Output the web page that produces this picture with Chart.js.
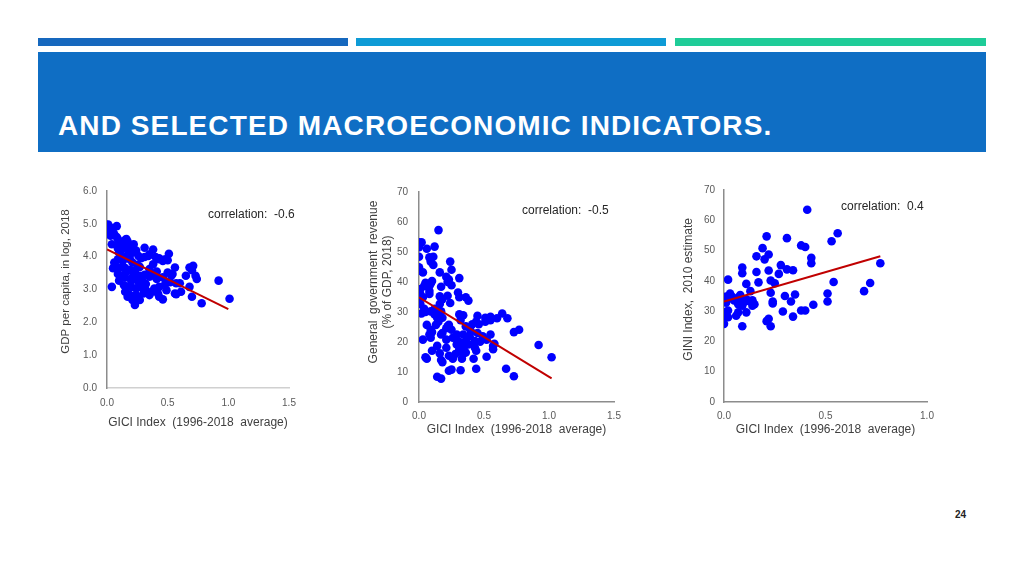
<!DOCTYPE html>
<html>
<head>
<meta charset="utf-8">
<script src="https://cdn.jsdelivr.net/npm/chart.js@4.4.1/dist/chart.umd.min.js"></script>
<style>
  html, body { margin: 0; padding: 0; background: #fff; }
  body { width: 1024px; height: 576px; position: relative; overflow: hidden; font-family: "Liberation Sans", Arial, sans-serif; }
  .bar { position: absolute; top: 38px; height: 8px; }
  #titleBox { position: absolute; left: 38px; top: 52px; width: 948px; height: 100px; background: #0f6ec4; }
  #titleText { position: absolute; left: 58px; top: 110px; color: #fff; font-weight: bold; font-size: 28px; letter-spacing: 1.1px; white-space: nowrap; }
  canvas { position: absolute; }
  .corr { position: absolute; font-size: 12px; color: #262626; white-space: pre; }
  #pageNum { position: absolute; left: 955px; top: 509px; font-size: 10px; font-weight: bold; color: #222; }
</style>
</head>
<body>
<div class="bar" style="left:38px;width:310px;background:#1668be;"></div>
<div class="bar" style="left:356px;width:310px;background:#0e9bd6;"></div>
<div class="bar" style="left:675px;width:311px;background:#1fcc98;"></div>
<div id="titleBox"></div>
<div id="titleText">AND SELECTED MACROECONOMIC INDICATORS.</div>

<canvas id="gdpCanvas" width="260" height="260" style="left:50px;top:175px;"></canvas>
<canvas id="revCanvas" width="270" height="270" style="left:360px;top:175px;"></canvas>
<canvas id="giniCanvas" width="280" height="270" style="left:670px;top:175px;"></canvas>

<div class="corr" style="left:208px;top:207px;">correlation:  -0.6</div>
<div class="corr" style="left:522px;top:203px;">correlation:  -0.5</div>
<div class="corr" style="left:841px;top:199px;">correlation:  0.4</div>
<div id="pageNum">24</div>

<script>
// --- Data: GICI index vs GDP per capita (log) ---
const gdpX = [0.00,0.01,0.02,0.01,0.00,0.02,0.04,0.05,0.08,0.06,
  0.03,0.08,0.09,0.10,0.04,0.11,0.09,0.12,0.15,0.16,
  0.17,0.15,0.15,0.18,0.20,0.22,0.19,0.10,0.12,0.09,
  0.13,0.16,0.21,0.24,0.26,0.28,0.31,0.34,0.35,0.38,
  0.40,0.42,0.43,0.46,0.48,0.50,0.51,0.31,0.19,0.21,
  0.25,0.27,0.06,0.08,0.05,0.12,0.15,0.19,0.09,0.12,
  0.16,0.23,0.21,0.15,0.10,0.14,0.17,0.20,0.24,0.27,
  0.30,0.32,0.37,0.39,0.43,0.41,0.39,0.35,0.31,0.29,
  0.26,0.24,0.32,0.30,0.24,0.21,0.19,0.15,0.17,0.23,
  0.27,0.35,0.42,0.43,0.46,0.49,0.52,0.53,0.50,0.56,
  0.54,0.49,0.57,0.57,0.60,0.65,0.68,0.70,0.68,0.71,
  0.73,0.74,0.70,0.78,0.92,1.01,0.04,0.20,0.27,0.35,
  0.38,0.41,0.46,0.48,0.56,0.61];
const gdpY = [4.96,4.98,4.91,4.84,4.78,4.73,4.79,4.86,4.93,4.68,
  4.64,4.60,4.54,4.41,4.38,4.32,4.25,4.22,4.51,4.54,
  4.46,4.35,4.27,4.22,4.35,4.38,4.12,4.12,3.99,3.92,
  3.87,4.02,4.12,4.19,4.02,3.95,3.99,4.02,4.07,4.22,
  3.99,3.92,3.95,3.87,3.92,3.89,4.09,4.27,3.92,3.82,
  3.75,3.69,3.82,3.69,3.65,3.67,3.65,3.59,3.47,3.42,
  3.55,3.57,3.37,3.37,3.27,3.13,3.08,3.08,3.03,3.08,
  3.03,2.98,2.93,3.03,3.08,3.32,3.42,3.39,3.45,3.27,
  3.22,3.37,3.17,2.88,2.83,2.68,2.83,2.93,2.78,2.53,
  2.68,2.83,2.88,2.78,2.70,3.22,3.22,3.42,3.52,3.67,
  3.47,2.98,3.19,2.86,3.19,3.42,3.67,3.59,3.08,3.72,
  3.42,3.32,2.78,2.58,3.27,2.72,3.08,3.27,3.42,3.62,
  3.77,3.55,3.37,3.17,2.88,2.93];
const gdpTrendX = [0, 1.0];
const gdpTrendY = [4.22, 2.40];

// --- Data: GICI index vs general government revenue ---
const revX = [0.15,0.00,0.02,0.00,0.00,0.06,0.12,0.08,0.11,0.09,
  0.11,0.00,0.00,0.03,0.16,0.24,0.25,0.21,0.23,0.22,
  0.31,0.25,0.17,0.22,0.16,0.30,0.24,0.36,0.38,0.00,
  0.01,0.03,0.01,0.04,0.05,0.08,0.09,0.10,0.08,0.08,
  0.09,0.12,0.14,0.17,0.14,0.15,0.06,0.09,0.10,0.08,
  0.09,0.03,0.10,0.05,0.06,0.14,0.16,0.18,0.17,0.23,
  0.21,0.21,0.18,0.22,0.23,0.25,0.26,0.29,0.28,0.31,
  0.32,0.34,0.33,0.34,0.36,0.38,0.39,0.40,0.41,0.43,
  0.44,0.42,0.43,0.44,0.45,0.47,0.46,0.51,0.51,0.55,
  0.52,0.55,0.55,0.57,0.58,0.52,0.57,0.26,0.25,0.23,
  0.14,0.17,0.32,0.44,0.67,0.73,0.64,0.68,0.73,0.77,
  0.92,1.02,0.49,0.31,0.32,0.36,0.17,0.13,0.18,0.21,
  0.29,0.30,0.36,0.00,0.02,0.01,0.04,0.05,0.12,0.16,
  0.18,0.31,0.34,0.39,0.35,0.45,0.31,0.60];
const revY = [57.3,53.2,53.2,51.6,48.4,51.1,51.8,48.2,48.4,46.8,
  45.7,44.9,43.8,43.2,43.2,46.8,44.1,41.7,40.8,40.0,
  41.3,38.9,38.4,35.4,35.2,36.5,33.0,34.9,33.8,37.0,
  36.0,34.9,32.7,31.1,30.0,38.7,39.5,40.3,37.0,36.0,
  30.2,31.1,29.8,30.2,28.1,26.8,25.7,24.1,23.3,22.5,
  21.4,20.8,17.1,14.9,14.4,18.7,16.2,13.3,14.0,15.4,
  18.1,20.8,23.0,25.2,25.7,24.1,21.4,19.2,16.0,17.1,
  19.8,16.0,14.4,22.5,20.3,19.2,21.9,23.5,25.9,18.1,
  17.1,14.4,20.3,26.8,28.7,20.1,25.9,28.1,26.8,28.4,
  20.8,27.3,22.5,18.7,19.4,15.1,17.6,14.4,10.8,10.4,
  8.4,7.8,10.6,11.1,11.1,8.6,29.5,27.9,23.3,24.1,
  19.0,14.9,21.9,29.2,27.3,25.2,22.5,25.7,28.1,24.6,
  22.5,20.3,16.5,33.3,29.5,37.6,38.7,39.7,29.2,32.7,
  34.3,34.9,28.9,24.6,18.7,23.0,17.6,27.9];
const revTrendX = [0, 1.02];
const revTrendY = [34.9, 7.9];

// --- Data: GICI index vs GINI index ---
const giniX = [0.41,0.21,0.31,0.19,0.38,0.40,0.53,0.56,0.16,0.22,
  0.20,0.43,0.43,0.77,0.09,0.09,0.16,0.22,0.28,0.31,
  0.34,0.27,0.02,0.11,0.17,0.23,0.25,0.54,0.72,0.69,
  0.01,0.03,0.04,0.08,0.07,0.11,0.12,0.14,0.15,0.14,
  0.09,0.07,0.01,0.00,0.00,0.02,0.00,0.06,0.07,0.11,
  0.09,0.21,0.22,0.23,0.23,0.24,0.24,0.30,0.35,0.33,
  0.29,0.34,0.38,0.40,0.44,0.51,0.51,0.02,0.13,0.05,
  0.02,0.10];
const giniY = [63.5,54.7,54.1,50.8,51.7,51.2,53.1,55.7,48.1,48.7,
  47.1,47.6,45.8,45.8,44.4,42.5,42.9,43.4,45.2,43.8,
  43.5,42.3,40.4,39.0,39.5,40.1,39.2,39.6,39.3,36.6,
  34.8,35.8,34.7,35.3,34.5,33.9,33.4,33.6,32.3,31.8,
  31.8,32.3,32.8,29.6,27.5,28.0,25.8,28.5,29.6,29.6,
  25.0,26.7,27.5,25.0,36.1,33.2,32.5,35.0,35.5,33.2,
  29.9,28.2,30.2,30.2,32.1,35.8,33.2,30.2,36.6,33.5,
  34.0,33.0];
const giniTrendX = [0, 0.77];
const giniTrendY = [33.2, 48.1];

// --- Shared style ---
const FONT = '"Liberation Sans", Arial, sans-serif';
const TICK_COLOR = '#595959';
const TITLE_COLOR = '#404040';
const DOT_COLOR = '#0000ff';
const TREND_COLOR = '#c00000';

function toPoints(xs, ys) {
  return xs.map((x, i) => ({ x: x, y: ys[i] }));
}

function makeScatter(canvasId, xs, ys, trendX, trendY, cfg) {
  const ctx = document.getElementById(canvasId).getContext('2d');
  return new Chart(ctx, {
    type: 'scatter',
    data: {
      datasets: [
        {
          // trend line first so it sits on top of the dots
          type: 'line',
          data: toPoints(trendX, trendY),
          borderColor: TREND_COLOR,
          borderWidth: 2,
          pointRadius: 0,
          fill: false
        },
        {
          data: toPoints(xs, ys),
          backgroundColor: DOT_COLOR,
          borderWidth: 0,
          pointRadius: 4.3
        }
      ]
    },
    options: {
      responsive: false,
      animation: false,
      events: [],
      layout: { padding: cfg.padding },
      plugins: { legend: { display: false }, tooltip: { enabled: false } },
      scales: {
        x: {
          type: 'linear',
          min: 0, max: cfg.xMax,
          grid: { display: false, drawTicks: false },
          border: { display: true, color: cfg.xBorder, width: 1.5 },
          ticks: {
            stepSize: 0.5, autoSkip: false, maxRotation: 0,
            padding: cfg.xTickPad, color: TICK_COLOR,
            font: { family: FONT, size: 10 },
            callback: v => v.toFixed(1)
          },
          title: {
            display: true, text: 'GICI Index  (1996-2018  average)', color: TITLE_COLOR,
            font: { family: FONT, size: 12 }, padding: { top: 0, bottom: cfg.xTitlePad }
          },
          afterFit: s => { s.height = cfg.xHeight; }
        },
        y: {
          min: 0, max: cfg.yMax,
          grid: { display: false, drawTicks: false },
          border: { display: true, color: '#8c8c8c', width: 1.5 },
          ticks: {
            stepSize: cfg.yStep, autoSkip: false,
            padding: cfg.yTickPad, color: TICK_COLOR,
            font: { family: FONT, size: 10 },
            callback: v => cfg.yFixed ? v.toFixed(1) : v
          },
          title: {
            display: true, text: cfg.yTitle, color: TITLE_COLOR,
            font: { family: FONT, size: cfg.yTitleSize }, padding: { top: cfg.yTitlePad, bottom: 0 }
          },
          afterFit: s => { s.width = cfg.yWidth; }
        }
      }
    }
  });
}

// --- Charts ---
// leading spaces in the y titles nudge them up a little, like the original
makeScatter('gdpCanvas', gdpX, gdpY, gdpTrendX, gdpTrendY, {
  xMax: 1.5, yMax: 6, yStep: 1, yFixed: true,
  yTitle: '     GDP per capita, in log, 2018', yTitleSize: 11.5,
  padding: { left: 0, right: 21, top: 12, bottom: 0 },
  yWidth: 57, xHeight: 47, xTickPad: 9, yTickPad: 10,
  xTitlePad: 5, yTitlePad: 9, xBorder: '#d0d0d0'
});

makeScatter('revCanvas', revX, revY, revTrendX, revTrendY, {
  xMax: 1.5, yMax: 70, yStep: 10, yFixed: false,
  yTitle: ['         General  government  revenue', '         (% of GDP, 2018)'], yTitleSize: 12,
  padding: { left: 0, right: 16, top: 10, bottom: 0 },
  yWidth: 59, xHeight: 43, xTickPad: 8, yTickPad: 11,
  xTitlePad: 8, yTitlePad: 6, xBorder: '#8c8c8c'
});

makeScatter('giniCanvas', giniX, giniY, giniTrendX, giniTrendY, {
  xMax: 1.0, yMax: 70, yStep: 10, yFixed: false,
  yTitle: '    GINI Index,  2010 estimate', yTitleSize: 12,
  padding: { left: 0, right: 23, top: 10, bottom: 0 },
  yWidth: 54, xHeight: 43, xTickPad: 8, yTickPad: 9,
  xTitlePad: 8, yTitlePad: 11, xBorder: '#8c8c8c'
});
</script>
</body>
</html>
